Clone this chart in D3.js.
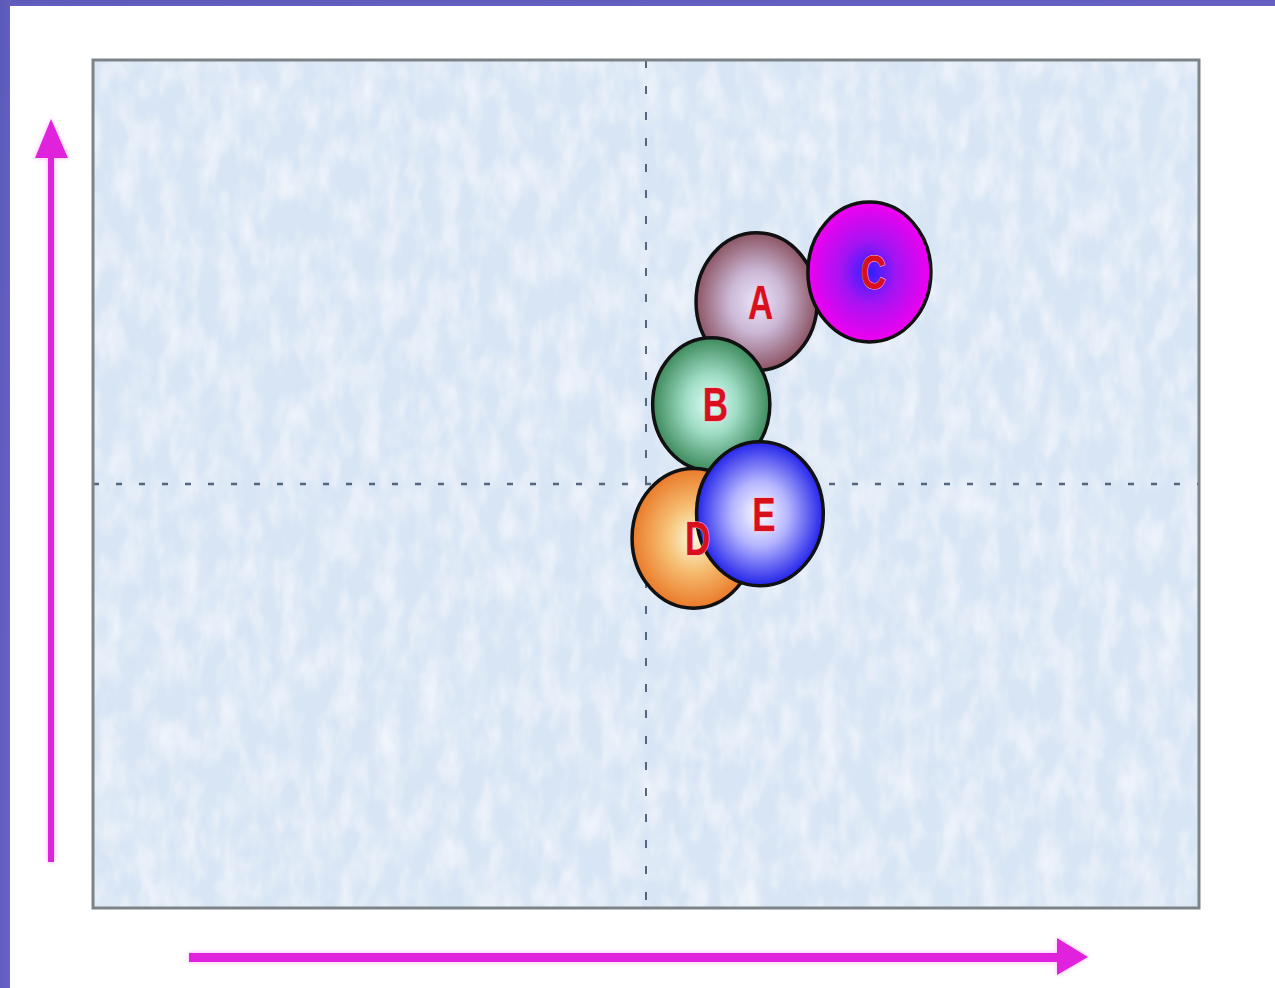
<!DOCTYPE html>
<html><head><meta charset="utf-8">
<script src="https://cdn.jsdelivr.net/npm/d3@7"></script>
<style>html,body{margin:0;padding:0;background:#fff;overflow:hidden}</style>
</head><body>
<script>
// ---- data ----
const names = ["A", "B", "C", "D", "E"];
const xVals = [6.00, 5.59, 7.02, 5.43, 6.03];
const yVals = [7.15, 5.94, 7.50, 4.36, 4.65];
const sizes = [9.5, 8.9, 9.8, 9.8, 10.4];
const xDomain = [0, 10];
const yDomain = [0, 10];
const xMid = 5, yMid = 5;
const gradStops = [
  ["#ece4fa", "#cbb8d6", "#8c5464"],
  ["#e0fff8", "#9edcc4", "#3d8a5c"],
  ["#2a22ff", "#a414f2", "#f000f0"],
  ["#fafadc", "#f6c074", "#ea7a2a"],
  ["#ffffff", "#b4b4ff", "#2424ea"]
];

const W = 1275, H = 988;
const L = 93, R = 1199, T = 60, B = 908;
const svg = d3.select("body").append("svg").attr("width", W).attr("height", H);
const defs = svg.append("defs");

const sg = defs.append("linearGradient").attr("id", "slide").attr("x1", 0).attr("y1", 0).attr("x2", 1).attr("y2", 1);
sg.append("stop").attr("offset", 0).attr("stop-color", "#5a5ab8");
sg.append("stop").attr("offset", 1).attr("stop-color", "#6a62c6");

const f = defs.append("filter").attr("id", "tex").attr("x", 0).attr("y", 0).attr("width", 1).attr("height", 1);
f.append("feTurbulence").attr("type", "fractalNoise").attr("baseFrequency", "0.05 0.025").attr("numOctaves", 3).attr("seed", 4).attr("result", "n");
f.append("feColorMatrix").attr("in", "n").attr("type", "matrix")
  .attr("values", "0 0 0 0 1  0 0 0 0 1  0 0 0 0 1  1.1 0 0 0 -0.4").attr("result", "w");
f.append("feComposite").attr("in", "w").attr("in2", "SourceGraphic").attr("operator", "in").attr("result", "wc");
f.append("feMerge").call(m => { m.append("feMergeNode").attr("in", "SourceGraphic"); m.append("feMergeNode").attr("in", "wc"); });

const glow = defs.append("filter").attr("id", "glow").attr("x", -0.2).attr("y", -0.2).attr("width", 1.4).attr("height", 1.4);
glow.append("feGaussianBlur").attr("in", "SourceAlpha").attr("stdDeviation", 2.5).attr("result", "b");
glow.append("feFlood").attr("flood-color", "#ff80ff").attr("flood-opacity", 0.6);
glow.append("feComposite").attr("in2", "b").attr("operator", "in").attr("result", "g");
glow.append("feMerge").call(m => { m.append("feMergeNode").attr("in", "g"); m.append("feMergeNode").attr("in", "SourceGraphic"); });

gradStops.forEach((s, i) => {
  const g = defs.append("radialGradient").attr("id", "bg" + i).attr("cx", "50%").attr("cy", "50%").attr("r", "50%");
  g.append("stop").attr("offset", 0).attr("stop-color", s[0]);
  g.append("stop").attr("offset", 0.45).attr("stop-color", s[1]);
  g.append("stop").attr("offset", 1).attr("stop-color", s[2]);
});

svg.append("rect").attr("width", W).attr("height", H).attr("fill", "#fff");
svg.append("rect").attr("x", 0).attr("y", 0).attr("width", W).attr("height", 6).attr("fill", "url(#slide)");
svg.append("rect").attr("x", 0).attr("y", 0).attr("width", 10).attr("height", H).attr("fill", "url(#slide)");

const x = d3.scaleLinear().domain(xDomain).range([L, R]);
const y = d3.scaleLinear().domain(yDomain).range([B, T]);
const r = d3.scaleSqrt().domain([0, d3.max(sizes)]).range([0, 72]);

svg.append("rect").attr("x", L).attr("y", T).attr("width", R - L).attr("height", B - T)
  .attr("fill", "#d8e5f5").attr("filter", "url(#tex)");

svg.append("line").attr("x1", x(xMid)).attr("x2", x(xMid)).attr("y1", T).attr("y2", B)
  .attr("stroke", "#56667c").attr("stroke-width", 2).attr("stroke-dasharray", "8,18");
svg.append("line").attr("x1", L).attr("x2", R).attr("y1", y(yMid)).attr("y2", y(yMid))
  .attr("stroke", "#56667c").attr("stroke-width", 2.5).attr("stroke-dasharray", "6,17");

svg.append("rect").attr("x", L).attr("y", T).attr("width", R - L).attr("height", B - T)
  .attr("fill", "none").attr("stroke", "#7d8488").attr("stroke-width", 3);

const data = names.map((n, i) => ({ n, x: xVals[i], y: yVals[i], s: sizes[i], i }));
const gB = svg.append("g");
gB.selectAll("ellipse").data(data).join("ellipse")
  .attr("cx", d => x(d.x)).attr("cy", d => y(d.y))
  .attr("rx", d => r(d.s) * 0.88).attr("ry", d => r(d.s))
  .attr("fill", d => `url(#bg${d.i})`)
  .attr("stroke", "#111").attr("stroke-width", 3.5);

gB.selectAll("text").data(data).join("text")
  .attr("transform", d => `translate(${x(d.x) + 4},${y(d.y) + 17}) scale(1,1.35)`)
  .attr("text-anchor", "middle")
  .attr("font-family", "Liberation Sans, Arial, sans-serif")
  .attr("font-size", 35)
  .attr("font-weight", "bold")
  .attr("fill", "#d8101e")
  .attr("stroke", "#ffb0c0").attr("stroke-width", 0.8).attr("paint-order", "stroke")
  .text(d => d.n);

const ag = svg.append("g").attr("filter", "url(#glow)").attr("fill", "#e020dc");
ag.append("rect").attr("x", 48).attr("y", 150).attr("width", 6).attr("height", 712);
ag.append("path").attr("d", "M35,158 L68,158 L51,119 Z");
ag.append("rect").attr("x", 189).attr("y", 953).attr("width", 872).attr("height", 9);
ag.append("path").attr("d", "M1057,938 L1057,975 L1088,957 Z");
</script>
</body></html>
